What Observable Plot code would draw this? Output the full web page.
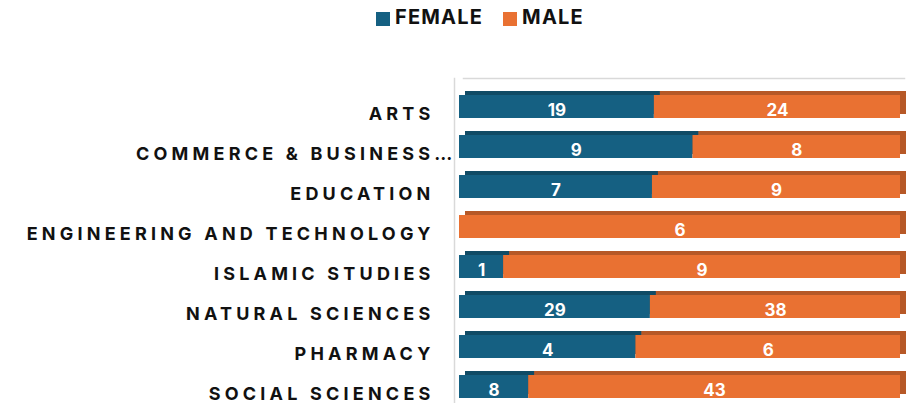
<!DOCTYPE html>
<html>
<head>
<meta charset="utf-8">
<script src="https://cdn.jsdelivr.net/npm/d3@7"></script>
<script src="https://cdn.jsdelivr.net/npm/@observablehq/plot@0.6"></script>
<style>
  html, body { margin: 0; padding: 0; background: #fff; overflow: hidden; }
  #legend { height: 40px; display: flex; align-items: flex-start; padding-left: 376px; padding-top: 5px; box-sizing: border-box;
            font-family: Inter, "DejaVu Sans", sans-serif; font-weight: 700; font-size: 20px; letter-spacing: 1.2px; color: #111; }
  .item { display: flex; align-items: center; margin-right: 20px; }
  .sw { width: 14px; height: 14px; margin-right: 5px; margin-top: 3px; }
</style>
</head>
<body>
<div id="legend"></div>
<div id="chart"></div>
<script>
const categories = ["ARTS", "COMMERCE & BUSINESS…", "EDUCATION", "ENGINEERING AND TECHNOLOGY",
  "ISLAMIC STUDIES", "NATURAL SCIENCES", "PHARMACY", "SOCIAL SCIENCES"];
const female = [19, 9, 7, 0, 1, 29, 4, 8];
const male = [24, 8, 9, 6, 9, 38, 6, 43];
const seriesNames = ["FEMALE", "MALE"];
const seriesColors = ["#156082", "#E97132"];

const data = [
  ...categories.map((c, i) => ({cat: c, sex: "FEMALE", value: female[i]})),
  ...categories.map((c, i) => ({cat: c, sex: "MALE", value: male[i]}))
];

// legend
const legend = document.getElementById("legend");
seriesNames.forEach((s, i) => {
  const it = document.createElement("div");
  it.className = "item";
  it.innerHTML = `<span class="sw" style="background:${seriesColors[i]}"></span><span>${s}</span>`;
  legend.appendChild(it);
});

const stack = (opts) => Plot.stackX({offset: "normalize", x: "value", y: "cat", z: "sex", order: seriesNames, ...opts});
const labelStyle = {fontSize: 18, fontWeight: 700, fill: "#111", textAnchor: "end", frameAnchor: "left", dy: 7, ariaLabel: () => "category-label"};

const chart = Plot.plot({
  width: 906,
  height: 380,
  marginLeft: 459,
  marginRight: 6,
  marginTop: 38,
  marginBottom: 5,
  x: {domain: [0, 1], axis: null},
  y: {domain: categories, axis: null, paddingInner: 0.42, paddingOuter: 0.42},
  color: {domain: seriesNames, range: seriesColors},
  style: {fontFamily: "Inter, 'DejaVu Sans', sans-serif"},
  marks: [
    // back wall
    Plot.frame({anchor: "left", stroke: "#d9d9d9", strokeWidth: 1.5, dx: -5}),
    Plot.frame({anchor: "top", stroke: "#d9d9d9", strokeWidth: 1.5, dx: 4}),
    // 3D depth faces (darkened)
    Plot.barX(data, stack({fill: "black", dx: 6, dy: -4})),
    Plot.barX(data, stack({fill: "sex", fillOpacity: 0.78, dx: 6, dy: -4})),
    // front faces
    Plot.barX(data, stack({fill: "sex"})),
    // value labels
    Plot.text(data, stack({text: d => d.value ? String(d.value) : "", fill: "white", fontSize: 17, fontWeight: 700, dy: 3.5})),
    // category labels
    Plot.text(categories.filter(c => !c.endsWith("…")), {y: d => d, text: d => d, dx: -25, ...labelStyle}),
    Plot.text(categories.filter(c => c.endsWith("…")), {y: d => d, text: d => d, dx: -3, ...labelStyle})
  ]
});
chart.querySelectorAll("text").forEach(t => {
  if (categories.includes(t.textContent)) t.style.letterSpacing = "4.2px";
});
document.getElementById("chart").appendChild(chart);
</script>
</body>
</html>
